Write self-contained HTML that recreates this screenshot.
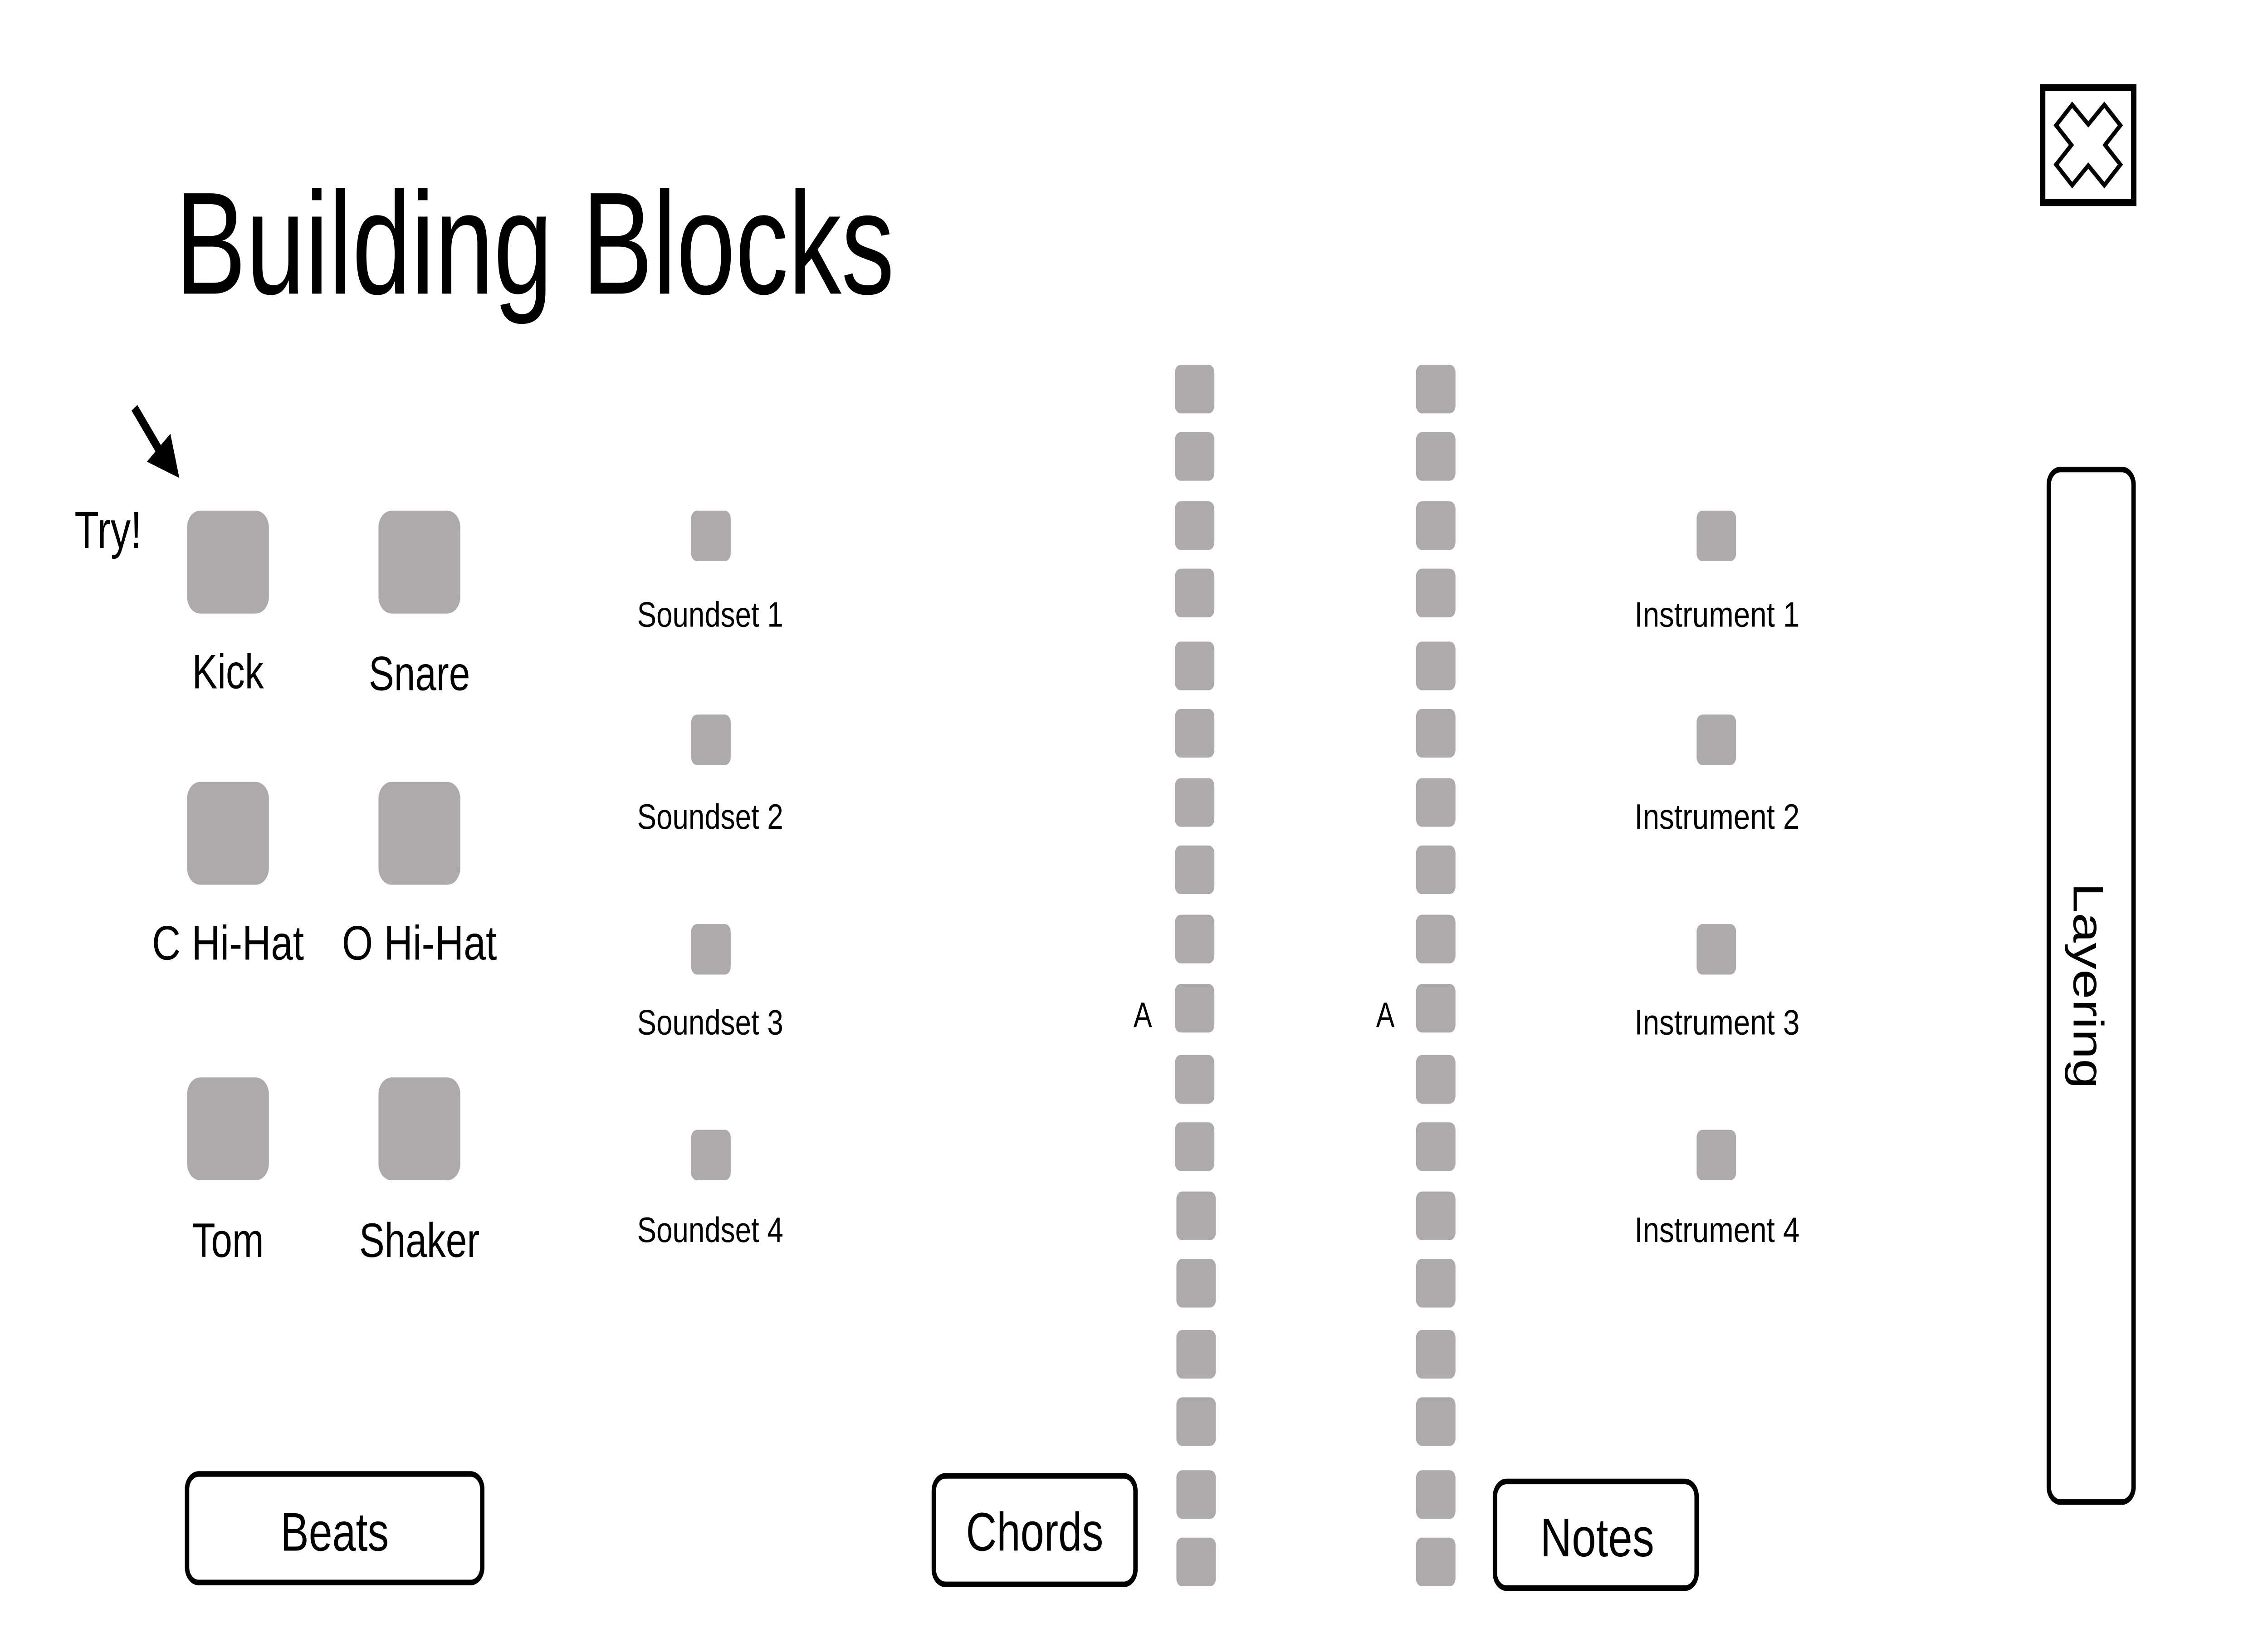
<!DOCTYPE html>
<html><head><meta charset="utf-8"><style>
html,body{margin:0;padding:0;background:#fff;width:100%;height:100%;overflow:hidden;}
svg{display:block;position:absolute;left:0;top:0;width:100vw;height:100vh;}
text{font-family:"Liberation Sans",sans-serif;fill:#000;}
</style></head><body>
<svg viewBox="0 0 1552 873" preserveAspectRatio="none" xmlns="http://www.w3.org/2000/svg">
<rect x="0" y="0" width="1552" height="873" fill="#fff"/>
<text x="120" y="157" font-size="78" textLength="492" lengthAdjust="spacingAndGlyphs">Building Blocks</text>

<rect x="1397.8" y="46.8" width="62.3" height="61.5" fill="none" stroke="#000" stroke-width="3.7"/>
<polygon points="1418,56 1429,66.5 1440,56 1451,67 1440.5,77.5 1451,88 1440,99 1429,88.5 1418,99 1407,88 1417.5,77.5 1407,67" fill="none" stroke="#000" stroke-width="2.5" stroke-linejoin="miter"/>

<line x1="92" y1="218" x2="110" y2="242" stroke="#000" stroke-width="5"/>
<polygon points="100.5,246.8 116.6,231.9 122.7,255.5" fill="#000"/>
<text x="51" y="293" font-size="28" textLength="46" lengthAdjust="spacingAndGlyphs">Try!</text>

<g fill="#aeaaa9">
<rect x="128" y="273" width="56" height="55" rx="9"/>
<rect x="259" y="273" width="56" height="55" rx="9"/>
<rect x="128" y="418" width="56" height="55" rx="9"/>
<rect x="259" y="418" width="56" height="55" rx="9"/>
<rect x="128" y="576" width="56" height="55" rx="9"/>
<rect x="259" y="576" width="56" height="55" rx="9"/>

<rect x="473" y="273" width="27" height="27" rx="4"/>
<rect x="473" y="382" width="27" height="27" rx="4"/>
<rect x="473" y="494" width="27" height="27" rx="4"/>
<rect x="473" y="604" width="27" height="27" rx="4"/>
<rect x="1161" y="273" width="27" height="27" rx="4"/>
<rect x="1161" y="382" width="27" height="27" rx="4"/>
<rect x="1161" y="494" width="27" height="27" rx="4"/>
<rect x="1161" y="604" width="27" height="27" rx="4"/>
</g>

<g fill="#aeaaa9">
<rect x="804" y="195" width="27" height="26" rx="4"/><rect x="969" y="195" width="27" height="26" rx="4"/>
<rect x="804" y="231" width="27" height="26" rx="4"/><rect x="969" y="231" width="27" height="26" rx="4"/>
<rect x="804" y="268" width="27" height="26" rx="4"/><rect x="969" y="268" width="27" height="26" rx="4"/>
<rect x="804" y="304" width="27" height="26" rx="4"/><rect x="969" y="304" width="27" height="26" rx="4"/>
<rect x="804" y="343" width="27" height="26" rx="4"/><rect x="969" y="343" width="27" height="26" rx="4"/>
<rect x="804" y="379" width="27" height="26" rx="4"/><rect x="969" y="379" width="27" height="26" rx="4"/>
<rect x="804" y="416" width="27" height="26" rx="4"/><rect x="969" y="416" width="27" height="26" rx="4"/>
<rect x="804" y="452" width="27" height="26" rx="4"/><rect x="969" y="452" width="27" height="26" rx="4"/>
<rect x="804" y="489" width="27" height="26" rx="4"/><rect x="969" y="489" width="27" height="26" rx="4"/>
<rect x="804" y="526" width="27" height="26" rx="4"/><rect x="969" y="526" width="27" height="26" rx="4"/>
<rect x="804" y="564" width="27" height="26" rx="4"/><rect x="969" y="564" width="27" height="26" rx="4"/>
<rect x="804" y="600" width="27" height="26" rx="4"/><rect x="969" y="600" width="27" height="26" rx="4"/>
<rect x="805" y="637" width="27" height="26" rx="4"/><rect x="969" y="637" width="27" height="26" rx="4"/>
<rect x="805" y="673" width="27" height="26" rx="4"/><rect x="969" y="673" width="27" height="26" rx="4"/>
<rect x="805" y="711" width="27" height="26" rx="4"/><rect x="969" y="711" width="27" height="26" rx="4"/>
<rect x="805" y="747" width="27" height="26" rx="4"/><rect x="969" y="747" width="27" height="26" rx="4"/>
<rect x="805" y="786" width="27" height="26" rx="4"/><rect x="969" y="786" width="27" height="26" rx="4"/>
<rect x="805" y="822" width="27" height="26" rx="4"/><rect x="969" y="822" width="27" height="26" rx="4"/>
</g>

<g font-size="26" text-anchor="middle">
<text x="156" y="368">Kick</text>
<text x="287" y="369">Snare</text>
<text x="156" y="513" textLength="104" lengthAdjust="spacingAndGlyphs">C Hi-Hat</text>
<text x="287" y="513" textLength="106" lengthAdjust="spacingAndGlyphs">O Hi-Hat</text>
<text x="156" y="672">Tom</text>
<text x="287" y="672">Shaker</text>
</g>
<g font-size="19" text-anchor="middle">
<text x="486" y="335" textLength="100" lengthAdjust="spacingAndGlyphs">Soundset 1</text>
<text x="486" y="443" textLength="100" lengthAdjust="spacingAndGlyphs">Soundset 2</text>
<text x="486" y="553" textLength="100" lengthAdjust="spacingAndGlyphs">Soundset 3</text>
<text x="486" y="664" textLength="100" lengthAdjust="spacingAndGlyphs">Soundset 4</text>
<text x="1175" y="335" textLength="113" lengthAdjust="spacingAndGlyphs">Instrument 1</text>
<text x="1175" y="443" textLength="113" lengthAdjust="spacingAndGlyphs">Instrument 2</text>
<text x="1175" y="553" textLength="113" lengthAdjust="spacingAndGlyphs">Instrument 3</text>
<text x="1175" y="664" textLength="113" lengthAdjust="spacingAndGlyphs">Instrument 4</text>
<text x="782" y="549">A</text>
<text x="948" y="549">A</text>
</g>

<g fill="none" stroke="#000" stroke-width="3">
<rect x="128" y="788" width="202" height="58" rx="8"/>
<rect x="639" y="789" width="138" height="58" rx="8"/>
<rect x="1023" y="792" width="138" height="57" rx="8"/>
<rect x="1402" y="251" width="58" height="552" rx="8"/>
</g>
<g font-size="29" text-anchor="middle">
<text x="229" y="829">Beats</text>
<text x="708" y="829" textLength="94" lengthAdjust="spacingAndGlyphs">Chords</text>
<text x="1093" y="832" textLength="78" lengthAdjust="spacingAndGlyphs">Notes</text>
<text x="0" y="0" transform="translate(1419,527) rotate(90)" textLength="110" lengthAdjust="spacingAndGlyphs">Layering</text>
</g>
</svg>
</body></html>
